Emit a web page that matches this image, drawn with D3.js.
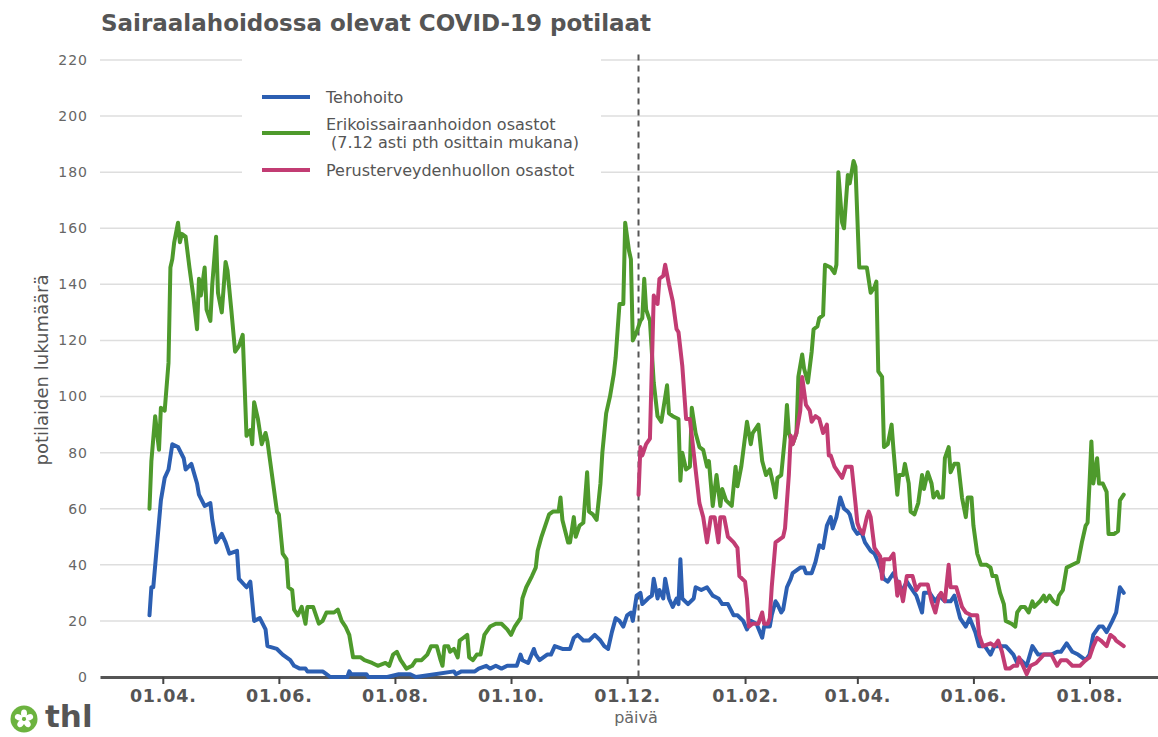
<!DOCTYPE html>
<html lang="fi">
<head>
    <meta charset="utf-8">
    <title>Sairaalahoidossa olevat COVID-19 potilaat</title>
    <script src="https://cdn.jsdelivr.net/npm/d3@7"></script>
    <style>
        body {
            margin: 0;
            background: #fff;
        }
        svg {
            display: block;
            font-family: "DejaVu Sans", sans-serif;
        }
    </style>
</head>
<body>
    <svg id="chart" width="1158" height="737"></svg>

    <script>
        // days counted from 01.04.2020, value = patients in care
        const baseDate = new Date(2020, 3, 1);
        const domainStart = new Date(2020, 1, 28);
        const domainEnd = new Date(2021, 8, 6);
        const splitDate = new Date(2020, 11, 7); // 7.12 change in reporting

        const seriesNames = [
            "Tehohoito",
            "Erikoissairaanhoidon osastot",
            "Perusterveydenhuollon osastot"
        ];
        const seriesColors = ["#2c5fb2", "#4e9a2c", "#c23c73"];

        const tehohoito = [
            [-7,22],[-6,32],[-5,32],[-1,63],[1,71],[3,74],[5,83],[8,82],[11,78],[12,74],[15,76],[18,69],
            [19,65],[22,61],[25,62],[26,56],[28,48],[31,51],[33,48],[35,44],[39,45],[40,35],[44,32],[46,34],
            [48,20],[51,21],[54,17],[55,11],[60,10],[63,8],[67,6],[69,4],[72,3],[75,3],[76,2],[84,2],[86,1],
            [88,0],[97,0],[98,2],[99,1],[102,1],[107,1],[108,0],[118,0],[124,1],[130,1],[133,0],[143,1],
            [153,2],[154,1],[157,2],[164,2],[166,3],[170,4],[172,3],[175,4],[178,3],[181,4],[186,4],[188,8],
            [189,6],[192,5],[195,10],[196,8],[198,6],[202,8],[204,8],[206,11],[210,10],[214,10],[216,14],
            [218,15],[221,13],[224,13],[227,15],[230,13],[232,11],[234,10],[236,16],[238,21],[240,20],[242,18],
            [244,22],[246,23],[247,20],[249,29],[251,30],[252,26],[255,28],[257,29],[258,35],[260,28],[261,31],
            [263,28],[264,35],[266,28],[268,25],[270,28],[271,26],[272,42],[273,28],[276,26],[279,28],[280,32],
            [283,31],[286,32],[289,29],[292,28],[294,26],[297,26],[300,22],[302,22],[305,20],[307,17],[309,20],
            [312,19],[315,14],[316,18],[319,18],[320,22],[322,27],[323,26],[325,23],[326,24],[328,32],[330,35],
            [331,37],[335,39],[337,39],[338,37],[341,37],[343,41],[345,47],[347,46],[349,54],[351,57],[352,53],
            [354,57],[356,64],[358,60],[360,59],[361,58],[363,53],[365,51],[367,52],[369,48],[372,45],[374,44],
            [376,41],[379,35],[381,34],[384,37],[386,34],[388,30],[391,34],[393,32],[396,29],[399,23],[400,30],
            [403,30],[406,27],[408,29],[411,27],[414,27],[416,29],[419,21],[422,18],[424,21],[427,16],[429,11],
            [432,11],[435,8],[437,11],[440,11],[443,11],[447,8],[449,5],[451,6],[454,4],[457,11],[460,8],
            [463,8],[467,8],[470,9],[472,9],[475,12],[478,9],[481,8],[485,6],[487,8],[489,15],[492,18],
            [494,18],[496,16],[499,20],[501,23],[503,32],[505,30]
        ];

        const erikoissairaanhoito = [
            [-7,60],[-6,77],[-4,93],[-2,81],[-1,96],[1,95],[3,112],[4,146],[5,149],[6,155],[8,162],[9,155],
            [10,158],[12,157],[14,146],[16,136],[18,124],[19,142],[20,136],[22,146],[23,131],[25,127],[26,140],
            [28,157],[29,137],[31,130],[33,148],[34,145],[36,131],[38,116],[40,118],[42,122],[44,86],[46,88],
            [47,83],[48,98],[50,92],[52,83],[54,87],[55,84],[58,69],[60,59],[61,58],[63,44],[65,42],[66,32],
            [68,31],[69,24],[71,22],[73,25],[75,19],[76,25],[79,25],[82,19],[84,20],[86,23],[90,23],[92,24],
            [94,20],[96,18],[98,15],[100,7],[102,7],[104,7],[106,6],[110,5],[113,4],[117,5],[119,4],[121,8],
            [123,9],[125,6],[126,5],[128,3],[131,4],[133,6],[136,6],[139,8],[141,11],[144,11],[146,6],[147,4],
            [148,11],[150,11],[151,9],[153,10],[155,7],[156,13],[158,14],[160,15],[161,7],[163,6],[165,8],
            [167,8],[169,15],[172,18],[175,19],[178,19],[181,17],[183,15],[185,18],[188,21],[189,28],[191,32],
            [194,36],[196,39],[197,45],[199,50],[201,54],[203,58],[205,59],[208,59],[209,64],[210,56],[213,48],
            [214,48],[216,57],[217,50],[219,54],[221,55],[223,73],[224,59],[226,58],[228,56],[230,69],[231,80],
            [233,94],[235,100],[237,108],[238,114],[240,133],[242,133],[243,162],[245,152],[246,149],[247,120],
            [249,123],[251,127],[252,128],[253,142],[254,131],[256,127],[258,105],[260,93],[262,91],[265,104],
            [266,94],[268,93],[271,92],[272,70],[273,80],[275,74],[277,75],[278,96],[280,87],[282,82],[284,81],
            [286,75],[287,77],[289,61],[291,72],[293,61],[294,67],[296,63],[299,61],[301,75],[302,68],[304,75],
            [307,91],[309,83],[310,87],[313,90],[315,77],[317,72],[319,74],[321,68],[322,64],[323,71],[325,72],
            [327,86],[328,97],[329,87],[331,83],[333,87],[334,107],[336,115],[337,110],[339,105],[341,116],
            [342,124],[344,125],[345,128],[347,129],[348,147],[351,146],[353,144],[354,147],[355,180],[357,162],
            [358,160],[360,179],[361,176],[363,184],[364,182],[366,146],[368,146],[370,146],[372,137],[374,139],
            [375,141],[376,109],[378,107],[379,82],[381,83],[383,90],[384,81],[386,65],[387,72],[389,72],
            [390,76],[392,69],[393,59],[395,58],[397,62],[399,72],[400,67],[402,73],[404,69],[405,64],[407,66],
            [408,64],[410,64],[411,78],[413,82],[414,73],[416,76],[418,76],[420,64],[422,57],[423,64],[425,64],
            [426,54],[428,44],[430,40],[433,40],[435,39],[436,36],[438,36],[440,30],[442,26],[443,20],[446,19],
            [448,18],[449,23],[451,25],[453,25],[455,23],[457,27],[458,25],[461,27],[463,29],[464,27],[466,29],
            [468,27],[470,26],[471,29],[473,31],[475,39],[478,40],[481,41],[483,48],[485,54],[486,55],[487,69],
            [488,84],[489,69],[491,78],[492,69],[494,69],[496,66],[497,51],[500,51],[502,52],[503,63],[505,65]
        ];

        const perusterveydenhuolto = [
            [250,65],[251,82],[252,79],[254,83],[256,85],[258,136],[260,133],[261,142],[263,143],[264,147],
            [266,140],[268,134],[270,124],[271,123],[273,111],[275,92],[277,92],[280,74],[282,62],[284,57],
            [286,48],[288,57],[290,57],[292,48],[293,57],[295,57],[297,50],[300,48],[302,46],[303,36],[306,34],
            [307,28],[308,18],[310,19],[313,19],[315,23],[316,19],[318,19],[319,21],[320,32],[322,48],[324,49],
            [326,50],[327,53],[329,72],[330,86],[331,83],[333,87],[335,95],[336,107],[338,97],[340,95],[341,91],
            [343,93],[345,92],[347,87],[349,90],[350,79],[351,79],[353,75],[356,72],[357,71],[359,75],[362,75],
            [364,62],[365,55],[366,53],[368,51],[370,57],[371,59],[372,57],[374,46],[377,43],[378,35],[379,42],
            [382,42],[384,44],[386,29],[387,34],[389,27],[391,36],[394,36],[396,31],[398,33],[400,33],[402,33],
            [404,27],[406,23],[408,29],[409,30],[411,27],[413,40],[414,32],[417,32],[420,25],[422,23],[425,22],
            [428,22],[429,15],[431,11],[435,12],[437,11],[439,13],[441,9],[443,3],[445,3],[447,4],[449,4],
            [450,7],[452,4],[454,1],[456,4],[459,5],[463,8],[467,8],[470,4],[472,6],[475,6],[478,4],[482,4],
            [485,6],[487,7],[489,11],[491,14],[493,13],[496,11],[498,15],[500,14],[501,13],[503,12],[505,11]
        ];

        const yTicks = [0, 20, 40, 60, 80, 100, 120, 140, 160, 180, 200, 220];
        const xTickDates = ["2020-04-01", "2020-06-01", "2020-08-01", "2020-10-01", "2020-12-01",
                            "2021-02-01", "2021-04-01", "2021-06-01", "2021-08-01"];

        const svg = d3.select("#chart");
        const textColor = "#555";

        const x = d3.scaleTime().domain([domainStart, domainEnd]).range([100, 1158]);
        const y = d3.scaleLinear().domain([0, 220]).range([677, 60]);

        // gridlines
        svg.append("g")
            .selectAll("line")
            .data(yTicks.filter(d => d > 0))
            .join("line")
            .attr("x1", 100)
            .attr("x2", 1158)
            .attr("y1", d => y(d))
            .attr("y2", d => y(d))
            .attr("stroke", "#dedede")
            .attr("stroke-width", 1.5);

        // y tick labels
        svg.append("g")
            .selectAll("text")
            .data(yTicks)
            .join("text")
            .attr("x", 88)
            .attr("y", d => y(d))
            .attr("dy", "0.35em")
            .attr("text-anchor", "end")
            .attr("fill", "#666")
            .attr("font-size", 14)
            .attr("letter-spacing", 1)
            .text(d => d);

        // x axis
        const parse = d3.timeParse("%Y-%m-%d");
        const fmt = d3.timeFormat("%d.%m.");
        const xAxis = d3.axisBottom(x)
            .tickValues(xTickDates.map(parse))
            .tickFormat(fmt)
            .tickSize(7)
            .tickSizeOuter(0)
            .tickPadding(6);

        const gx = svg.append("g")
            .attr("transform", `translate(0,${y(0)})`)
            .call(xAxis);
        gx.select(".domain").attr("stroke", "#555").attr("stroke-width", 3);
        gx.selectAll(".tick line").attr("stroke", "#444").attr("stroke-width", 2);
        gx.selectAll(".tick text")
            .attr("fill", textColor)
            .attr("font-family", "DejaVu Sans")
            .attr("font-weight", "bold")
            .attr("font-size", 17.5)
            .attr("letter-spacing", 0.8);

        // vertical marker for 7.12
        svg.append("line")
            .attr("x1", x(splitDate))
            .attr("x2", x(splitDate))
            .attr("y1", y(222))
            .attr("y2", y(0))
            .attr("stroke", "#555")
            .attr("stroke-width", 2)
            .attr("stroke-dasharray", "6,5");

        // lines
        const toPoints = arr => arr.map(([d, v]) => ({ date: d3.timeDay.offset(baseDate, d), value: v }));
        const line = d3.line()
            .x(d => x(d.date))
            .y(d => y(d.value));

        const allSeries = [tehohoito, erikoissairaanhoito, perusterveydenhuolto];
        // draw order: green first, then blue, pink on top
        [1, 0, 2].forEach(i => {
            svg.append("path")
                .datum(toPoints(allSeries[i]))
                .attr("fill", "none")
                .attr("stroke", seriesColors[i])
                .attr("stroke-width", 4)
                .attr("stroke-linejoin", "round")
                .attr("stroke-linecap", "round")
                .attr("d", line);
        });

        // legend
        const legend = svg.append("g");
        legend.append("rect")
            .attr("x", 242)
            .attr("y", 50)
            .attr("width", 359)
            .attr("height", 140)
            .attr("fill", "#fff");

        const legendY = [97, 133, 170];
        const legendText = [
            ["Tehohoito"],
            ["Erikoissairaanhoidon osastot", "\u00a0(7.12 asti pth osittain mukana)"],
            ["Perusterveydenhuollon osastot"]
        ];
        legendY.forEach((ly, i) => {
            legend.append("line")
                .attr("x1", 262)
                .attr("x2", 310)
                .attr("y1", ly)
                .attr("y2", ly)
                .attr("stroke", seriesColors[i])
                .attr("stroke-width", 4);
            const lines = legendText[i];
            const t = legend.append("text")
                .attr("fill", textColor)
                .attr("font-size", 16);
            lines.forEach((s, j) => {
                t.append("tspan")
                    .attr("x", 326)
                    .attr("y", ly + 6 + (j - (lines.length - 1) / 2) * 18)
                    .text(s);
            });
        });

        // title
        svg.append("text")
            .attr("x", 101)
            .attr("y", 31)
            .attr("fill", textColor)
            .attr("font-size", 23)
            .attr("font-weight", "bold")
            .text("Sairaalahoidossa olevat COVID-19 potilaat");

        // axis titles
        svg.append("text")
            .attr("transform", "translate(48,370) rotate(-90)")
            .attr("text-anchor", "middle")
            .attr("fill", textColor)
            .attr("font-size", 18)
            .text("potilaiden lukumäärä");

        svg.append("text")
            .attr("x", 636)
            .attr("y", 723)
            .attr("text-anchor", "middle")
            .attr("fill", "#666")
            .attr("font-size", 16)
            .text("päivä");

        // thl logo
        const logo = svg.append("g").attr("transform", "translate(24,719)");
        logo.append("circle").attr("r", 13.5).attr("fill", "#6cb33f");
        d3.range(5).forEach(k => {
            const a = (k * 72 - 90) * Math.PI / 180;
            logo.append("ellipse")
                .attr("cx", Math.cos(a) * 5.5)
                .attr("cy", Math.sin(a) * 5.5)
                .attr("rx", 4)
                .attr("ry", 3)
                .attr("transform", `rotate(${k * 72 - 90},${Math.cos(a) * 5.5},${Math.sin(a) * 5.5})`)
                .attr("fill", "#fff");
        });
        logo.append("circle").attr("r", 2).attr("fill", "#6cb33f");
        svg.append("text")
            .attr("x", 45)
            .attr("y", 727)
            .attr("fill", "#555")
            .attr("font-size", 31)
            .attr("font-weight", "bold")
            .text("thl");
    </script>
</body>
</html>
